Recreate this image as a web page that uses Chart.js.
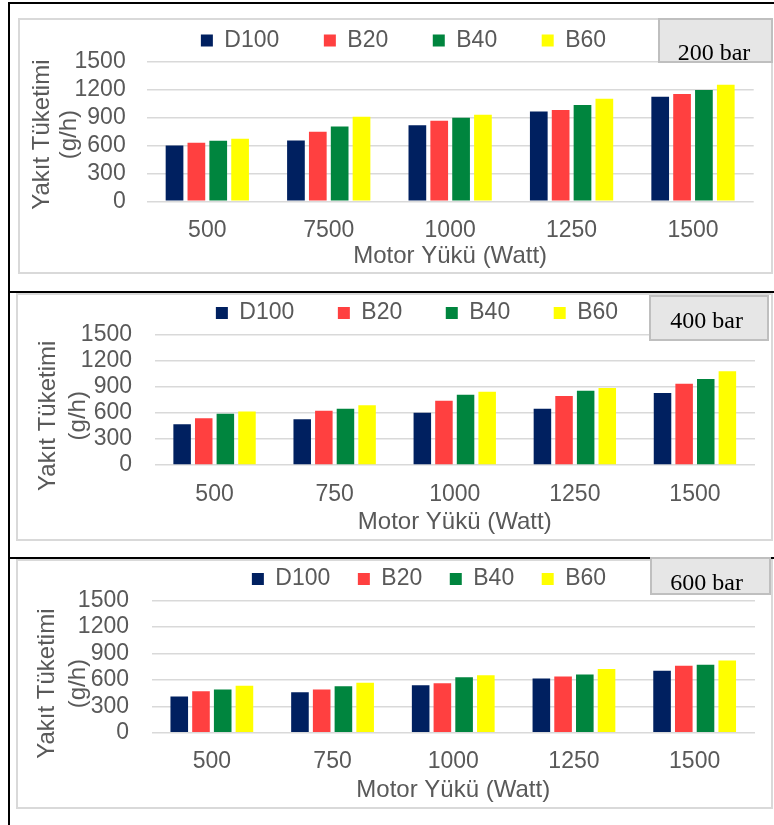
<!DOCTYPE html>
<html>
<head>
<meta charset="utf-8">
<script src="https://cdn.jsdelivr.net/npm/chart.js@4/dist/chart.umd.min.js"></script>
<style>
  html, body { margin:0; padding:0; background:#fff; }
  body { width:774px; height:825px; position:relative; overflow:hidden; }
  .blk { position:absolute; background:#000; }
  .gbox { position:absolute; box-sizing:border-box; border:2px solid #D9D9D9; }
  .pbox { position:absolute; box-sizing:border-box; border:2px solid #BFBFBF; background:#E6E6E6; }
  .ptxt { position:absolute; width:120px; text-align:center; font-family:'Liberation Serif','Times New Roman',serif; font-size:24px; line-height:24px; color:#000; white-space:nowrap; }
  canvas { position:absolute; }
</style>
</head>
<body>
<!-- outer frame -->
<div class="blk" style="left:8px;top:2px;width:2px;height:823px"></div>
<div class="blk" style="left:8px;top:2px;width:766px;height:2px"></div>
<div class="blk" style="left:8px;top:291px;width:766px;height:1.5px"></div>
<div class="blk" style="left:8px;top:557px;width:766px;height:1.5px"></div>

<!-- chart borders -->
<div class="gbox" style="left:18px;top:18px;width:755px;height:256px"></div>
<div class="gbox" style="left:16px;top:293px;width:757px;height:248px"></div>
<div class="gbox" style="left:16px;top:559px;width:757px;height:250px"></div>

<canvas id="c1" width="752" height="252" style="left:19px;top:20px"></canvas>
<canvas id="c2" width="753" height="245" style="left:18px;top:294px"></canvas>
<canvas id="c3" width="753" height="246" style="left:18px;top:561px"></canvas>

<!-- pressure labels -->
<div class="pbox" style="left:658px;top:18px;width:115px;height:45px"></div>
<div class="ptxt" id="p1" style="left:654px;top:40px"></div>
<div class="pbox" style="left:649px;top:295px;width:120px;height:46px"></div>
<div class="ptxt" id="p2" style="left:646.7px;top:308px"></div>
<div class="pbox" style="left:650px;top:557px;width:121px;height:38px"></div>
<div class="ptxt" id="p3" style="left:646.7px;top:570px"></div>

<script>
// ---------- DATA ----------
const seriesNames = ['D100', 'B20', 'B40', 'B60'];
const categories200 = ['500', '7500', '1000', '1250', '1500'];
const categories400 = ['500', '750', '1000', '1250', '1500'];
const categories600 = ['500', '750', '1000', '1250', '1500'];

const d100_200 = [601, 655, 820, 968, 1126];
const b20_200  = [630, 748, 867, 982, 1155];
const b40_200  = [651, 806, 899, 1036, 1198];
const b60_200  = [673, 910, 932, 1104, 1255];

const d100_400 = [469, 527, 600, 646, 827];
const b20_400  = [538, 623, 738, 792, 935];
const b40_400  = [588, 646, 808, 854, 988];
const b60_400  = [615, 688, 842, 885, 1077];

const d100_600 = [410, 459, 539, 615, 703];
const b20_600  = [471, 490, 562, 638, 759];
const b40_600  = [490, 528, 630, 661, 771];
const b60_600  = [532, 566, 653, 722, 820];

const yTickLabels = ['0', '300', '600', '900', '1200', '1500'];
const pressureLabels = ['200 bar', '400 bar', '600 bar'];
const xTitle = 'Motor Yükü (Watt)';
const yTitleLines = ['Yakıt Tüketimi', '(g/h)'];

// ---------- STYLE ----------
const colors = ['#002060', '#FF4040', '#00853E', '#FFFF00'];
const FAMILY = "'Liberation Sans', Arial, sans-serif";
const TXT = '#595959';
Chart.defaults.font.family = FAMILY;

document.getElementById('p1').textContent = pressureLabels[0];
document.getElementById('p2').textContent = pressureLabels[1];
document.getElementById('p3').textContent = pressureLabels[2];

const yTitlePlugin = {
  id: 'yTitle',
  afterDraw(chart, args, opts) {
    const {ctx, chartArea} = chart;
    ctx.save();
    ctx.font = '24px ' + FAMILY;
    ctx.fillStyle = TXT;
    ctx.textAlign = 'center';
    ctx.textBaseline = 'middle';
    const cy = (chartArea.top + chartArea.bottom) / 2 + opts.dy;
    opts.lines.forEach((t, i) => {
      ctx.save();
      ctx.translate(opts.x + i * opts.gap, cy);
      ctx.rotate(-Math.PI / 2);
      ctx.fillText(t, 0, 0);
      ctx.restore();
    });
    ctx.restore();
  }
};

// shifts the legend row horizontally after layout
const legendShiftPlugin = {
  id: 'legendShift',
  afterLayout(chart, args, opts) {
    if (chart.legend) {
      chart.legend.left += opts.dx;
      chart.legend.right += opts.dx;
    }
  }
};

const yMin = Number(yTickLabels[0]);
const yMax = Number(yTickLabels[yTickLabels.length - 1]);
const yStep = Number(yTickLabels[1]) - Number(yTickLabels[0]);

function makePanel(id, labels, series, L) {
  new Chart(document.getElementById(id), {
    type: 'bar',
    data: {
      labels: labels,
      datasets: series.map((s, i) => ({
        label: seriesNames[i],
        data: s,
        backgroundColor: colors[i],
        borderWidth: 0,
        categoryPercentage: 0.72,
        barPercentage: 0.81
      }))
    },
    options: {
      responsive: false,
      animation: false,
      devicePixelRatio: 1,
      layout: { padding: { left: 0, right: L.padR, top: L.padT, bottom: 0 } },
      plugins: {
        legend: {
          position: 'top',
          labels: {
            boxWidth: 12, boxHeight: 12, padding: L.legP,
            color: TXT, font: { size: 23, family: FAMILY }
          }
        },
        tooltip: { enabled: false },
        yTitle: { lines: yTitleLines, x: L.tx, gap: L.tgap, dy: L.tdy },
        legendShift: { dx: L.legDx }
      },
      scales: {
        x: {
          grid: { display: false, drawTicks: false },
          border: { display: false },
          ticks: { padding: L.xTickPad, color: TXT, font: { size: 23, family: FAMILY, lineHeight: 1.2 }, maxRotation: 0, autoSkip: false },
          title: { display: true, text: xTitle, color: TXT, font: { size: 24, family: FAMILY, lineHeight: 1.15 }, padding: { top: 0, bottom: L.xTitlePad } },
          afterFit(s) { s.height = L.xH; }
        },
        y: {
          min: yMin, max: yMax,
          ticks: {
            stepSize: yStep, autoSkip: false, padding: L.yTickPad, color: TXT,
            font: { size: 23, family: FAMILY },
            callback: (v, i) => yTickLabels[i]
          },
          grid: { color: '#D9D9D9', lineWidth: 1.5, drawTicks: false },
          border: { display: false },
          afterFit(s) { s.width = L.yW; }
        }
      }
    },
    plugins: [yTitlePlugin, legendShiftPlugin]
  });
}

makePanel('c1', categories200, [d100_200, b20_200, b40_200, b60_200],
  { padR: 17.3, padT: -35.5, legP: 44.5, legDx: 17.15, yW: 127.6, yTickPad: 20.9,
    xH: 70.7, xTickPad: 15.5, xTitlePad: 2.2, tx: 23, tgap: 27, tdy: 3 });
makePanel('c2', categories400, [d100_400, b20_400, b40_400, b60_400],
  { padR: 16, padT: -36, legP: 43.5, legDx: 30.5, yW: 136.5, yTickPad: 22.5,
    xH: 74, xTickPad: 16.2, xTitlePad: 2.9, tx: 30, tgap: 30, tdy: 16 });
makePanel('c3', categories600, [d100_600, b20_600, b40_600, b60_600],
  { padR: 16, padT: -21, legP: 27.5, legDx: 42.5, yW: 133.5, yTickPad: 22.5,
    xH: 74.3, xTickPad: 15.5, xTitlePad: 2.5, tx: 29, tgap: 31, tdy: 17 });
</script>
</body>
</html>
